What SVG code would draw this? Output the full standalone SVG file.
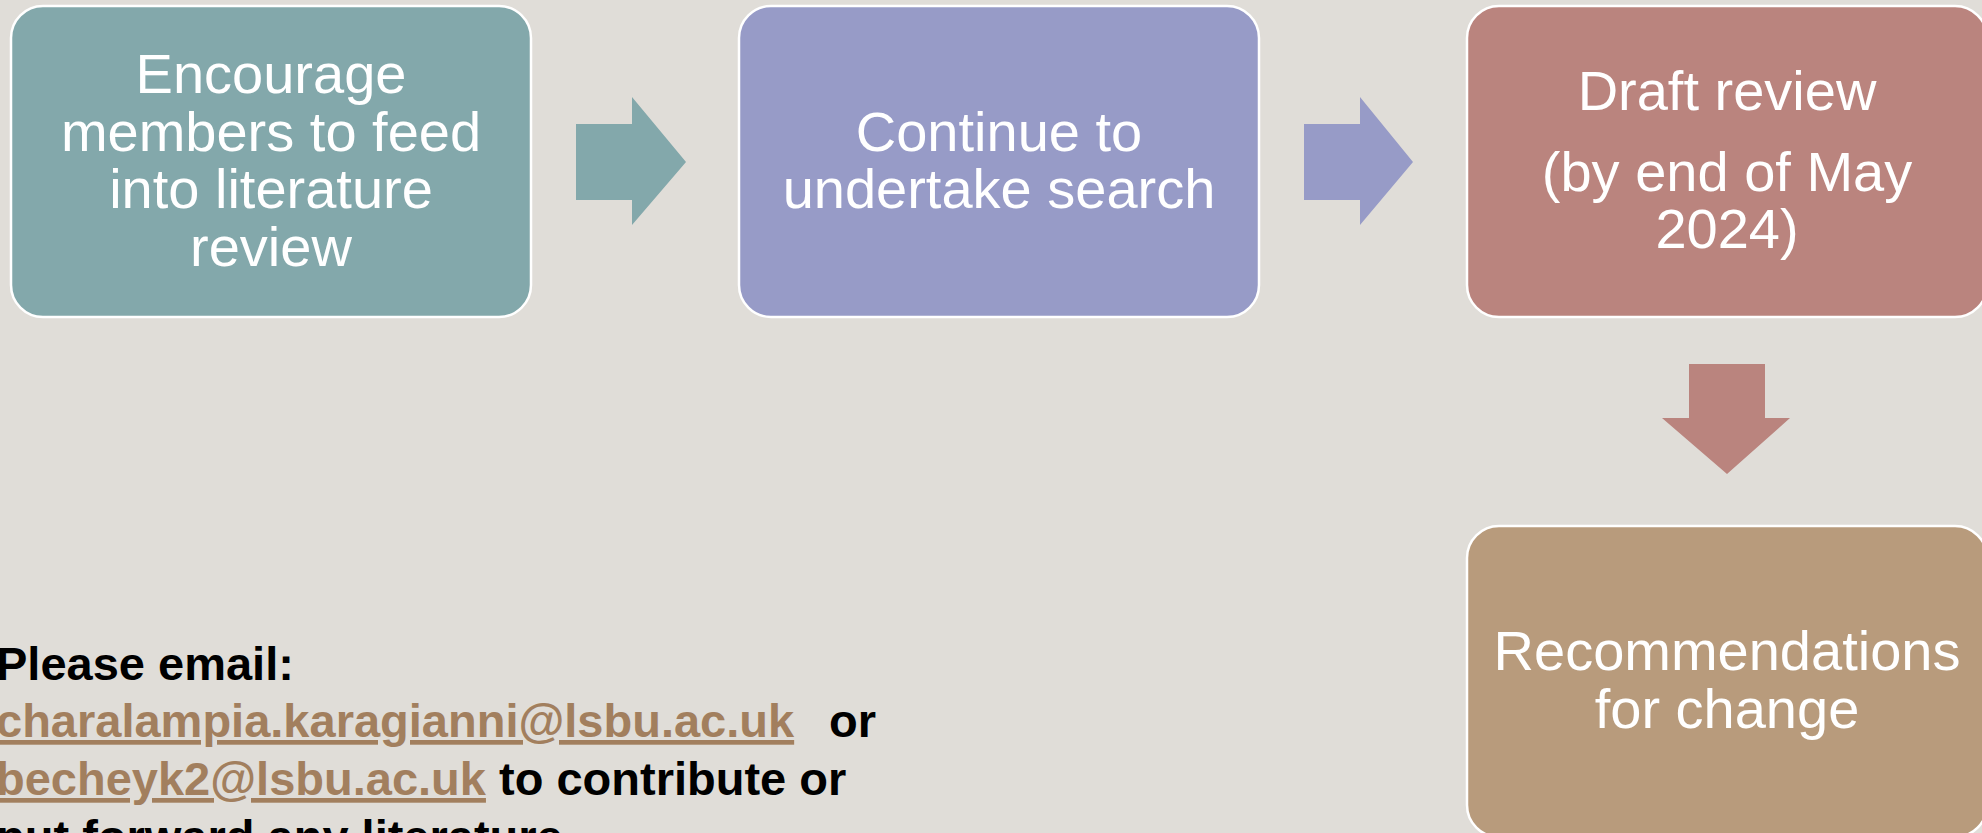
<svg xmlns="http://www.w3.org/2000/svg" width="1982" height="833" viewBox="0 0 1982 833">
<style>
.box{stroke:#FFFFFF;stroke-width:2.5}
.lbl{font-family:"Liberation Sans",Arial,sans-serif;font-size:56px;fill:#FFFFFF;text-anchor:middle}
.note{font-family:"Liberation Sans",Arial,sans-serif;font-size:47px;font-weight:bold;fill:#000000}
.link{fill:#A27F5E}
</style>
<rect x="0" y="0" width="1982" height="833" fill="#E0DDD8"/>
<g id="node-encourage">
<rect class="box" x="11" y="6" width="520" height="311" rx="32" ry="32" fill="#83A8AB"/>
<text class="lbl" x="271"><tspan x="271" y="93">Encourage</tspan><tspan x="271" y="151">members to feed</tspan><tspan x="271" y="208">into literature</tspan><tspan x="271" y="266">review</tspan></text>
</g>
<g id="node-continue">
<rect class="box" x="739" y="6" width="520" height="311" rx="32" ry="32" fill="#979BC7"/>
<text class="lbl" x="999"><tspan x="999" y="151">Continue to</tspan><tspan x="999" y="208">undertake search</tspan></text>
</g>
<g id="node-draft">
<rect class="box" x="1467" y="6" width="520" height="311" rx="32" ry="32" fill="#BA847E"/>
<text class="lbl" x="1727"><tspan x="1727" y="110">Draft review</tspan><tspan x="1727" y="191">(by end of May</tspan><tspan x="1727" y="248">2024)</tspan></text>
</g>
<g id="node-recommendations">
<rect class="box" x="1467" y="526" width="520" height="311" rx="32" ry="32" fill="#B89B7C"/>
<text class="lbl" x="1727"><tspan x="1727" y="670">Recommendations</tspan><tspan x="1727" y="728">for change</tspan></text>
</g>
<g id="connectors">
<polygon points="576,124 632,124 632,97 686,162 632,225 632,200 576,200" fill="#83A8AB"/>
<polygon points="1304,124 1360,124 1360,97 1413,162 1360,225 1360,200 1304,200" fill="#979BC7"/>
<polygon points="1689,364 1765,364 1765,418 1790,418 1727,474 1662,418 1689,418" fill="#BA847E"/>
</g>
<g id="contact-note">
<text class="note" x="-4" y="680">Please email:</text>
<text class="note" x="-4" y="737"><tspan class="link" text-decoration="underline">charalampia.karagianni@lsbu.ac.uk</tspan><tspan x="829">or</tspan></text>
<text class="note" x="-4" y="795"><tspan class="link" text-decoration="underline">becheyk2@lsbu.ac.uk</tspan> to contribute or</text>
<text class="note" x="-4" y="853">put forward any literature</text>
</g>
</svg>
